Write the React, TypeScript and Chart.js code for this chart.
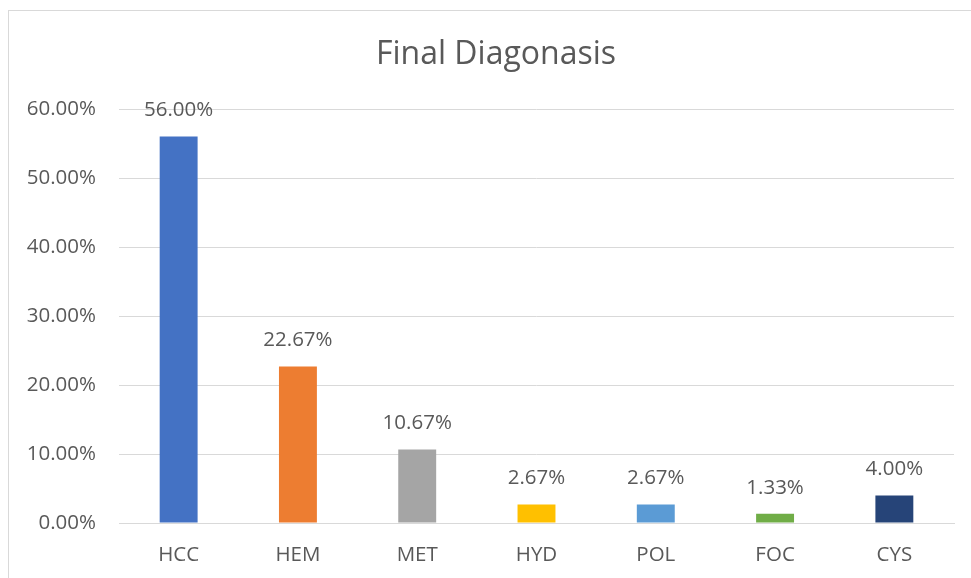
import React, { useEffect, useRef } from "react";
import { Chart, registerables } from "chart.js";

Chart.register(...registerables);

const categories = ["HCC", "HEM", "MET", "HYD", "POL", "FOC", "CYS"];
const values = [56.0, 22.67, 10.67, 2.67, 2.67, 1.33, 4.0];
const barColors = ["#4472C4", "#ED7D31", "#A5A5A5", "#FFC000", "#5B9BD5", "#70AD47", "#264478"];
const yTicks = [0, 10, 20, 30, 40, 50, 60];
const title = "Final Diagonasis";

const FONT = "'Open Sans', 'Segoe UI', sans-serif";
const TEXT = "#595959";

export default function App() {
  const ref = useRef<HTMLCanvasElement | null>(null);
  useEffect(() => {
    if (!ref.current) return;
    const framePlugin = {
      id: "frame",
      beforeDraw(chart: any) {
        const ctx = chart.ctx;
        ctx.save();
        ctx.fillStyle = "#ffffff";
        ctx.fillRect(0, 0, chart.width, chart.height);
        ctx.strokeStyle = "#d9d9d9";
        ctx.lineWidth = 1;
        ctx.strokeRect(8.5, 10.5, chart.width + 20, chart.height + 20);
        ctx.fillStyle = TEXT;
        ctx.font = `32px ${FONT}`;
        ctx.textAlign = "center";
        ctx.textBaseline = "middle";
        ctx.fillText(title, 496, 55);
        ctx.restore();
      },
      afterDatasetsDraw(chart: any) {
        const ctx = chart.ctx;
        const meta = chart.getDatasetMeta(0);
        ctx.save();
        ctx.fillStyle = TEXT;
        ctx.font = `20.5px ${FONT}`;
        ctx.textAlign = "center";
        ctx.textBaseline = "middle";
        meta.data.forEach((el: any, i: number) => {
          ctx.fillText(values[i].toFixed(2) + "%", el.x, el.y - 26);
        });
        ctx.restore();
      },
    };
    const chart = new Chart(ref.current, {
      type: "bar",
      data: {
        labels: categories,
        datasets: [
          {
            data: values,
            backgroundColor: barColors,
            borderWidth: 0,
            categoryPercentage: 1,
            barPercentage: 0.318,
          },
        ],
      },
      options: {
        animation: false,
        responsive: false,
        layout: { padding: { left: 0, right: 17, top: 109, bottom: 0 } },
        plugins: { legend: { display: false }, tooltip: { enabled: false }, title: { display: false } },
        scales: {
          x: {
            afterFit(scale: any) {
              scale.height = 55;
            },
            grid: { display: false, drawTicks: false },
            border: { display: true, color: "#d9d9d9", width: 1 },
            ticks: { color: TEXT, font: { family: FONT, size: 20.5 }, padding: 20 },
          },
          y: {
            min: 0,
            max: 60,
            afterFit(scale: any) {
              scale.width = 119;
            },
            afterBuildTicks(scale: any) {
              scale.ticks = yTicks.map((v) => ({ value: v }));
            },
            grid: { color: "#d9d9d9", lineWidth: 1, drawTicks: false },
            border: { display: false },
            ticks: {
              color: TEXT,
              font: { family: FONT, size: 20.5 },
              padding: 23,
              callback: (v: any) => Number(v).toFixed(2) + "%",
            },
          },
        },
      },
      plugins: [framePlugin],
    });
    return () => chart.destroy();
  }, []);
  return (
    <div style={{ position: "fixed", left: 0, top: 0, width: 971, height: 578, background: "#fff" }}>
      <canvas ref={ref} width={971} height={578} style={{ display: "block" }} />
    </div>
  );
}
